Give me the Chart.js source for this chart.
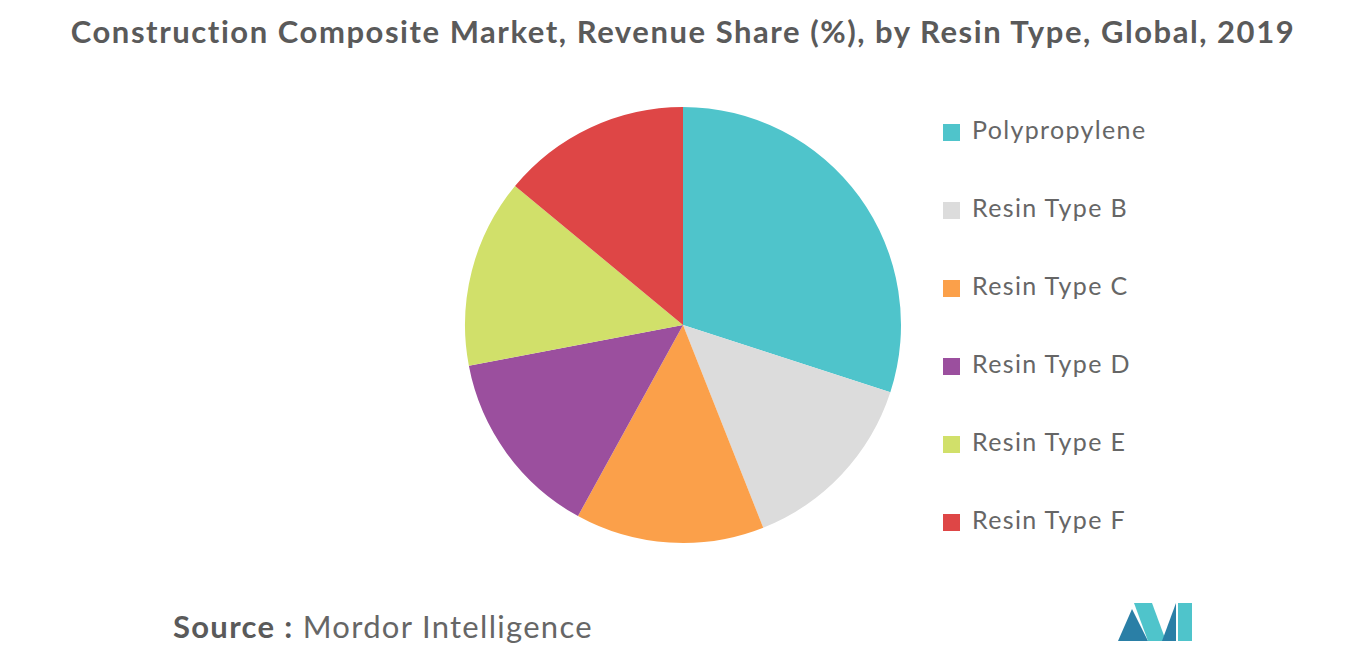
<!DOCTYPE html>
<html><head><meta charset="utf-8">
<script src="https://cdn.jsdelivr.net/npm/chart.js@4"></script>
<style>
body{margin:0;width:1366px;height:655px;background:#fff;font-family:Lato,"Open Sans",sans-serif;position:relative;overflow:hidden}
#title{position:absolute;top:12px;left:0;width:1366px;text-align:center;font-size:31px;font-weight:bold;color:#5a5a5a;letter-spacing:1.55px}
#wrap{position:absolute;left:463px;top:105px;width:440px;height:440px}
#legend{position:absolute;left:943px;top:114px}
.li{height:78px;display:flex;align-items:flex-start;font-size:25px;color:#666;letter-spacing:1.35px}
.sw{width:17px;height:17px;margin-right:12px;margin-top:10px}
#src{position:absolute;left:173px;top:607px;font-size:31px;color:#666;letter-spacing:1.3px}
#src b{color:#5a5a5a}
</style></head><body>
<div id="title">Construction Composite Market, Revenue Share (%), by Resin Type, Global, 2019</div>
<div id="wrap"><canvas id="c" width="440" height="440"></canvas></div>
<div id="legend"></div>
<div id="src"><b>Source :</b> Mordor Intelligence</div>
<svg style="position:absolute;left:1118px;top:603px" width="74" height="38"><polygon points="0,38 14,6 30,38" fill="#2a7fa6"/><polygon points="16,0 34,0 48,38 30,38" fill="#4fc4cb"/><polygon points="44,38 58,0 58,38" fill="#2a7fa6"/><polygon points="60,0 74,0 74,38 60,38" fill="#4fc4cb"/></svg>
<script>
const categories=["Polypropylene","Resin Type B","Resin Type C","Resin Type D","Resin Type E","Resin Type F"];
const shares=[30,14,14,14,14,14];
const colors=["#4fc4cb","#dcdcdc","#fba04a","#9b4f9e","#d1e06a","#de4646"];
new Chart(document.getElementById('c'),{type:'pie',
data:{labels:categories,datasets:[{data:shares,backgroundColor:colors,borderWidth:0}]},
options:{responsive:false,animation:false,layout:{padding:2},plugins:{legend:{display:false},tooltip:{enabled:false}}}});
const lg=document.getElementById('legend');
categories.forEach((c,i)=>{lg.innerHTML+=`<div class="li"><div class="sw" style="background:${colors[i]}"></div>${c}</div>`});
</script></body></html>
